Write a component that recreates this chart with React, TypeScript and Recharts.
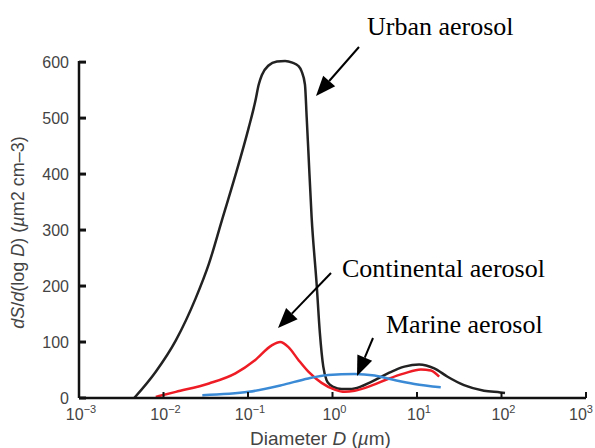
import React from 'react';
import { LineChart, Line, XAxis, YAxis } from 'recharts';

// particle diameter (µm) and surface distribution dS/dlogD (µm² cm⁻³)
const urbanD = [0.0045, 0.0081, 0.014, 0.024, 0.0345, 0.049, 0.071, 0.102, 0.122, 0.134, 0.146, 0.175, 0.22, 0.275, 0.335, 0.395, 0.43, 0.472, 0.495, 0.518, 0.566, 0.648, 0.709, 0.778, 0.85, 0.93, 1.02, 1.28, 1.6, 1.83, 2.88, 4.52, 7.09, 10.6, 16.0, 23.0, 36.0, 62.0, 97.0, 110];
const urbanS = [0, 47, 103, 178, 240, 317, 398, 483, 530, 560, 577, 594, 601, 602, 599, 593, 584, 560, 501, 441, 323, 205, 116, 56, 32, 24, 20, 16, 16, 17, 29, 44, 56, 60, 53, 38, 23, 13, 10, 9];

const continentalD = [0.0081, 0.014, 0.0345, 0.071, 0.122, 0.191, 0.24, 0.301, 0.395, 0.518, 0.743, 1.06, 1.4, 1.83, 2.88, 4.52, 7.09, 11.1, 14.6, 18.3];
const continentalS = [2, 11, 26, 44, 68, 94, 100, 91, 68, 47, 27, 15, 11, 13, 22, 34, 44, 51, 49, 38];

const marineD = [0.0288, 0.102, 0.251, 0.518, 0.889, 1.83, 3.15, 5.41, 9.29, 19.1];
const marineS = [5, 11, 23, 35, 41, 43, 40, 32, 25, 19];

const xTicks = [0.001, 0.01, 0.1, 1, 10, 100, 1000];
const yTicks = [0, 100, 200, 300, 400, 500, 600];

const toSeries = (d: number[], s: number[]) => d.map((v, i) => ({ d: v, s: s[i] }));

const urban = toSeries(urbanD, urbanS);
const continental = toSeries(continentalD, continentalS);
const marine = toSeries(marineD, marineS);

const sans = 'Liberation Sans, Arial, sans-serif';
const serif = 'Liberation Serif, Times New Roman, serif';

// 10^n tick labels
const PowerTick = (props: any) => {
  const { x, y, payload } = props;
  const exp = Math.round(Math.log10(payload.value));
  const sup = exp < 0 ? '\u2212' + -exp : String(exp);
  return (
    <text x={x + 2} y={y} textAnchor="middle" fill="#444" fontSize={16} fontFamily={sans}>
      <tspan dy={16}>10</tspan>
      <tspan dy={-7} fontSize={11}>{sup}</tspan>
    </text>
  );
};

const XTitle = (props: any) => {
  const { viewBox } = props;
  const cx = viewBox.x + viewBox.width / 2 - 12;
  return (
    <text x={cx} y={445} textAnchor="middle" fill="#444" fontSize={19} fontFamily={sans}>
      Diameter <tspan fontStyle="italic">D</tspan> (<tspan fontStyle="italic">µ</tspan>m)
    </text>
  );
};

const YTitle = (props: any) => {
  const { viewBox } = props;
  const cy = viewBox.y + viewBox.height / 2 + 3;
  return (
    <text x={0} y={0} transform={`translate(24 ${cy}) rotate(-90)`} textAnchor="middle" fill="#444" fontSize={18} fontFamily={sans}>
      <tspan fontStyle="italic">dS</tspan>/<tspan fontStyle="italic">d</tspan>(log <tspan fontStyle="italic">D</tspan>) (<tspan fontStyle="italic">µ</tspan>m2 cm–3)
    </text>
  );
};

const Arrow = ({ x1, y1, x2, y2 }: { x1: number; y1: number; x2: number; y2: number }) => {
  const ang = Math.atan2(y2 - y1, x2 - x1);
  const len = 20;
  const half = 8;
  const bx = x2 - len * Math.cos(ang);
  const by = y2 - len * Math.sin(ang);
  const px = -Math.sin(ang) * half;
  const py = Math.cos(ang) * half;
  return (
    <g>
      <line x1={x1} y1={y1} x2={bx} y2={by} stroke="#000" strokeWidth={2} />
      <polygon points={`${x2},${y2} ${bx + px},${by + py} ${bx - px},${by - py}`} fill="#000" />
    </g>
  );
};

const App: React.FC = () => {
  return (
    <div style={{ position: 'absolute', left: 0, top: 0, width: 595, height: 448, background: '#fff' }}>
      <LineChart width={595} height={448} margin={{ top: 61, right: 9, left: 0, bottom: 0 }}>
        <XAxis
          dataKey="d"
          type="number"
          scale="log"
          domain={[0.001, 1000]}
          ticks={xTicks}
          allowDataOverflow
          height={50}
          axisLine={{ stroke: '#111', strokeWidth: 2.5 }}
          tickLine={{ stroke: '#111', strokeWidth: 2 }}
          tickSize={-6}
          tickMargin={12}
          tick={<PowerTick />}
          label={<XTitle />}
        />
        <YAxis
          type="number"
          domain={[0, 600]}
          ticks={yTicks}
          width={79}
          axisLine={{ stroke: '#111', strokeWidth: 2.5 }}
          tickLine={{ stroke: '#111', strokeWidth: 3 }}
          tickSize={-7}
          tickMargin={17}
          tick={{ fill: '#444', fontSize: 16, fontFamily: sans }}
          label={<YTitle />}
        />
        <Line data={urban} dataKey="s" type="monotone" stroke="#222" strokeWidth={2.5} dot={false} isAnimationActive={false} />
        <Line data={continental} dataKey="s" type="monotone" stroke="#ee1c25" strokeWidth={2.5} dot={false} isAnimationActive={false} />
        <Line data={marine} dataKey="s" type="monotone" stroke="#3b8ad6" strokeWidth={2.5} dot={false} isAnimationActive={false} />
      </LineChart>
      <svg width={595} height={448} style={{ position: 'absolute', left: 0, top: 0, pointerEvents: 'none' }}>
        <text x={367} y={35} fontSize={26} fontFamily={serif} fill="#000">Urban aerosol</text>
        <text x={342} y={277} fontSize={26} fontFamily={serif} fill="#000">Continental aerosol</text>
        <text x={386} y={333} fontSize={26} fontFamily={serif} fill="#000">Marine aerosol</text>
        <Arrow x1={359} y1={47} x2={316} y2={96} />
        <Arrow x1={331} y1={273} x2={278} y2={328} />
        <Arrow x1={373} y1={338} x2={357} y2={376} />
      </svg>
    </div>
  );
};

export default App;
